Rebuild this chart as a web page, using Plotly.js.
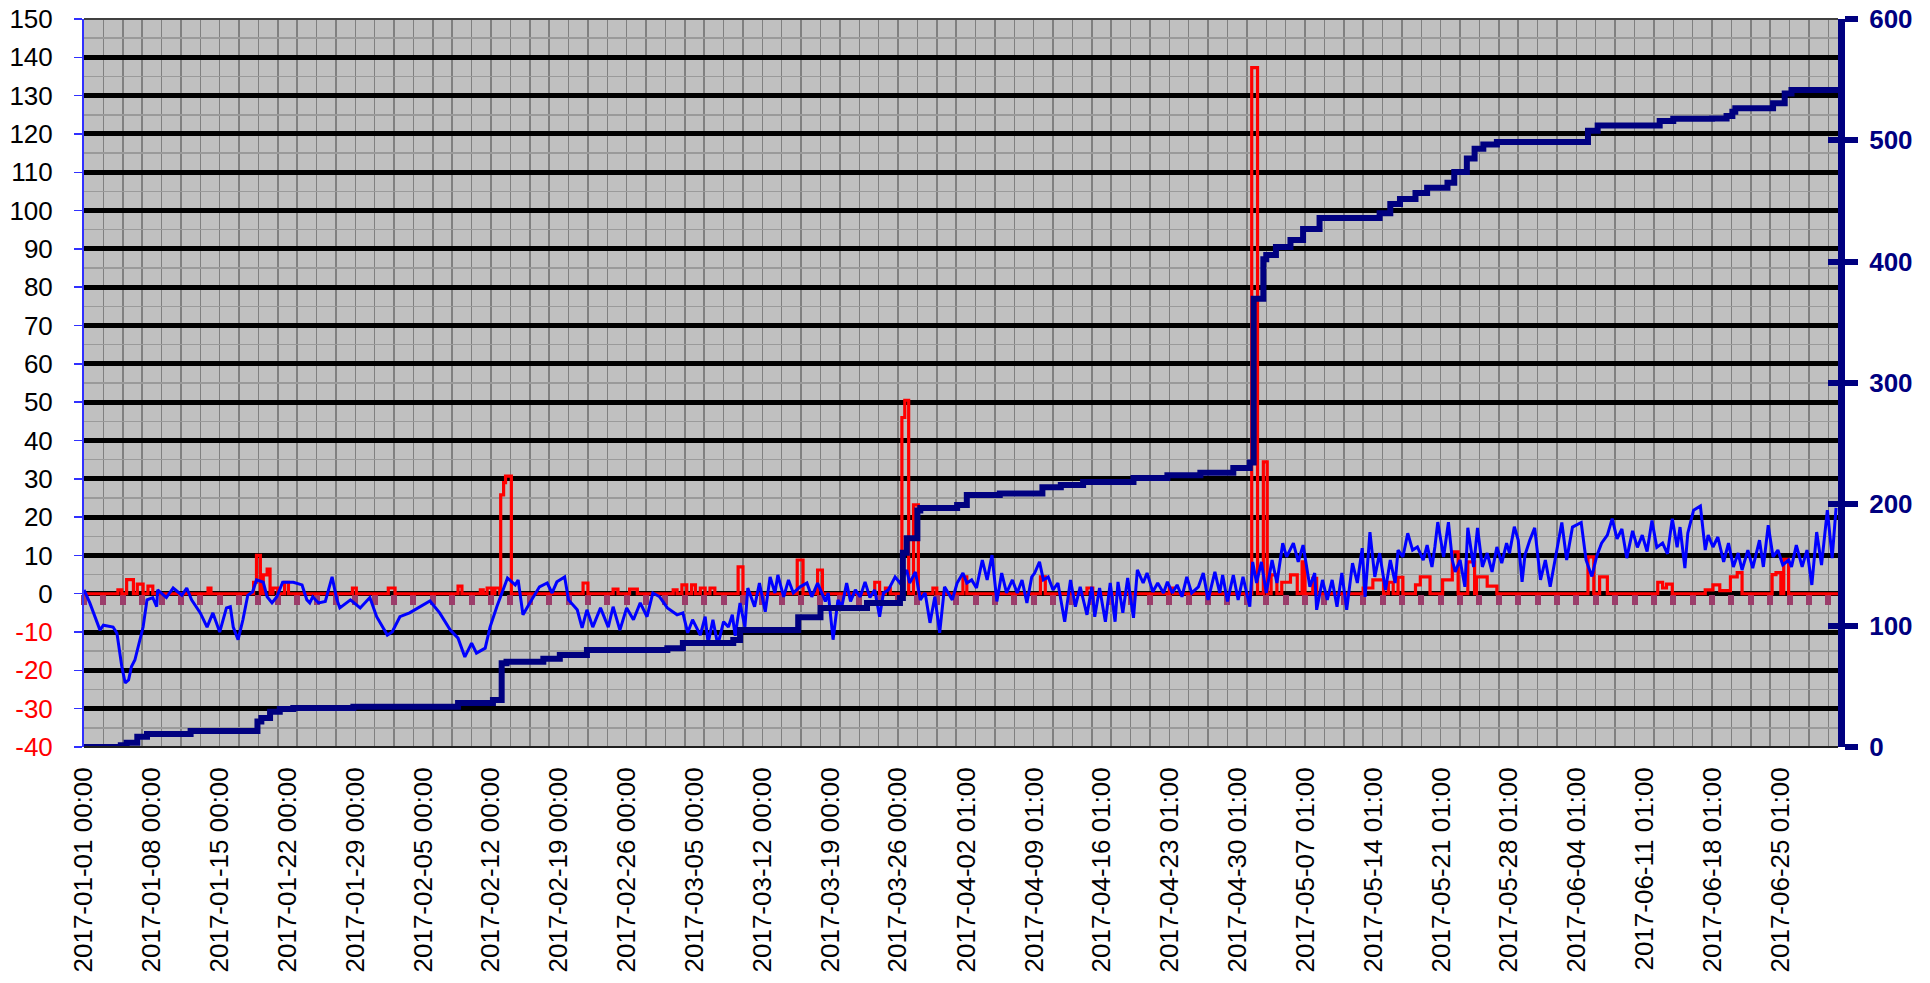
<!DOCTYPE html>
<html>
<head>
<meta charset="utf-8">
<script src="https://cdn.plot.ly/plotly-3.0.1.min.js"></script>
<style>html,body{margin:0;padding:0;background:#fff}#chart{width:1930px;height:983px}</style>
</head>
<body>
<div id="chart"></div>
<script>
// x tick labels (every 7 days)
const tickLabels = [
  "2017-01-01 00:00","2017-01-08 00:00","2017-01-15 00:00","2017-01-22 00:00","2017-01-29 00:00",
  "2017-02-05 00:00","2017-02-12 00:00","2017-02-19 00:00","2017-02-26 00:00","2017-03-05 00:00",
  "2017-03-12 00:00","2017-03-19 00:00","2017-03-26 00:00","2017-04-02 01:00","2017-04-09 01:00",
  "2017-04-16 01:00","2017-04-23 01:00","2017-04-30 01:00","2017-05-07 01:00","2017-05-14 01:00",
  "2017-05-21 01:00","2017-05-28 01:00","2017-06-04 01:00","2017-06-11 01:00","2017-06-18 01:00",
  "2017-06-25 01:00"
];
const leftTicks = [-40,-30,-20,-10,0,10,20,30,40,50,60,70,80,90,100,110,120,130,140,150];
const startDate = "2017-01-01";
const endDate = "2017-07-01";

// blue series (left axis): [day since 2017-01-01, value]
const blueSeries = [
 [0,1],[0.6,-2.4],[1.65,-9.5],[2,-8.2],[3,-8.7],[3.4,-10.3],[3.9,-19],[4.25,-23.3],[4.6,-22.5],[4.9,-19],
 [5.25,-17.3],[5.8,-12],[6.1,-8.7],[6.5,-1.6],[7.1,-1],[7.5,-3.4],[7.6,1],[8.5,-1],[9.2,1.5],[10.1,-0.4],
 [10.6,1.5],[11.1,-1.6],[12,-5],[12.7,-8.7],[13.3,-5],[14,-10],[14.7,-3.7],[15.1,-3.4],[15.4,-8.7],[15.9,-12],
 [16.4,-6.8],[16.9,-0.4],[17.4,0.5],[17.8,3.6],[18.5,3],[18.9,-0.8],[19.4,-2.4],[19.9,-0.8],[20.5,3],[21.6,3],
 [22.5,2.3],[23,-1.6],[23.3,-2.4],[23.6,-0.8],[24.2,-2.4],[24.9,-2],[25.6,4.4],[26.1,-1.6],[26.4,-3.7],[27.5,-1.6],
 [28.5,-3.7],[29.5,-1],[30.2,-6],[31.3,-10.8],[31.8,-10],[32.6,-6],
 [33.6,-5],[35.7,-1.9],[36.7,-5],[37.8,-9.5],[38.6,-11.6],[39.3,-16.5],[40,-12.9],[40.5,-15.5],[41.4,-14.2],[41.9,-8.7],
 [42.6,-3.4],[43.7,4.1],[44.5,2.3],[44.8,3.6],[45.3,-5.5],[46,-2.4],[47,1.8],[47.8,2.8],[48.3,0.2],[48.8,3.1],
 [49.6,4.4],[50,-1.6],[50.9,-4.2],[51.4,-8.9],[51.9,-4.2],[52.5,-8.7],[53.3,-3.7],[54.1,-8.7],[54.6,-3.4],[55.3,-9.5],
 [56,-3.7],[56.7,-6.8],[57.4,-2.4],[58.1,-6],[58.7,0.2],[59.4,-0.8],[60.2,-3.7],[61.2,-5.5],[61.8,-5],[62.3,-10.2],
 [62.8,-6.8],[63.6,-10.8],[64.1,-6],[64.4,-12.9],[64.9,-6.8],[65.4,-13.4],[66,-7.3],[66.5,-8.7],[66.9,-5.5],[67.2,-11],
 [67.7,-2.4],[68.2,-8.7],[68.5,1.5],[69.2,-3.4],[69.7,2.8],[70.3,-4.7],[70.8,4.4],[71.3,0.2],[71.6,4.9],[72.2,-0.8],
 [72.7,3.6],[73.2,0.2],[73.9,1.8],
 [74.6,2.8],[75.1,-0.8],[75.7,2.8],[76.5,-2],[76.8,0.2],[77.3,-12],[77.8,-1.6],[78.2,-3.4],[78.7,2.8],[79.1,-2],
 [79.6,1],[80.1,-0.8],[80.6,3.1],[81.1,-1],[81.6,1],[82.1,-6],[82.5,0.2],[83,1],[83.7,4.4],[84.2,2.8],
 [84.9,6.2],[85.2,2.8],[85.8,5.7],[86.3,-1.6],[86.8,0.2],[87.3,-7.6],[87.8,-0.8],[88.3,-10.2],[88.8,1.8],[89.6,-1.6],
 [90.1,2.8],[90.7,5.4],[91.1,2.8],[91.6,3.6],[92.1,1.5],[92.7,8.8],[93.2,3.6],[93.7,10.1],[94.2,-2],[94.7,5.4],
 [95.2,0.2],[95.8,3.6],[96.3,0.2],[96.8,3.6],[97.3,-2.4],[97.8,4.4],[98.1,5.4],[98.6,8.3],[99,3.6],[99.5,4.4],
 [100,1],[100.5,2.8],[101.2,-7.3],[101.8,3.6],[102.3,-3.4],[102.8,1.8],[103.5,-5.5],[104,1.8],[104.3,-6],[104.8,1.5],
 [105.4,-7.3],[105.9,2.8],[106.4,-7.3],[106.7,3.1],[107.2,-5],[107.7,4.1],[108.3,-6.3],[108.7,6.2],[109.3,2.8],[109.7,5.4],
 [110.3,0.5],[110.8,2.8],[111.4,0.2],[111.8,3.1],[112.3,0.2],[112.8,2.3],[113.3,-0.8],[113.8,4.4],[114.3,0.2],[115,1.8],
 [115.5,5.4],[116,-1.6],[116.7,5.7],[117.2,0.2],[117.5,4.9],[118,-2],[118.6,4.9],[119.1,-1.6],[119.6,4.4],[120.3,-3.4],
 [120.6,8.3],[121,2.8],[121.5,8.3],[122,0.2],[122.6,8.8],[123.1,2.8],[123.7,13.2],[124.1,9.6],[124.8,13.2],[125.3,8.3],
 [125.8,12.7],[126.5,1.8],[127,5.4],[127.2,-4.2],[127.8,3.6],[128.3,-1.6],[128.8,3.6],[129.3,-3.4],[129.8,5.4],[130.3,-4.2],
 [130.9,8],[131.4,2.8],[131.9,11.9],[132.2,-0.8],[132.7,16.1],[133.2,4.4],[133.7,10.6],[134.3,1],[134.8,8.8],[135.3,2.8],
 [135.6,11.4],[136.1,9.6],[136.6,15.8],[137.1,11.4],[137.6,12.2],[138.2,8.8],[138.6,12.7],[139.1,7],[139.4,12.2],[139.7,18.7],
 [140.3,9.6],[140.8,18.7],[141.2,8.8],[141.5,5.7],[142,8.8],[142.5,1.8],[142.8,17.2],[143.4,7],[143.8,17.2],[144.3,7],
 [144.8,10.6],[145.3,5.7],[145.8,12.2],[146.3,8],[146.8,13.2],[147.1,10.6],[147.6,17.5],[148,14],[148.4,3.1],[148.7,10.1],
 [149.2,14],[149.7,17.2],[150.3,3.6],[150.8,8.8],[151.3,1.8],
 [152.5,18.6],[153,8.8],[153.6,17.4],[154.5,18.6],[155,8.8],[155.6,4.5],[156.1,9.8],[156.6,13.2],[157.2,15.3],[157.7,19.6],
 [158.2,14.3],[158.7,16.9],[159.2,9.3],[159.8,16.4],[160.3,12.1],[160.8,15.3],[161.3,11],[161.8,19.1],[162.3,12.1],[162.9,13.2],
 [163.4,10.4],[163.9,19.6],[164.4,12.1],[164.7,17.4],[165.2,6.7],[165.5,15.8],[166.1,21.8],[166.8,22.9],
 [167.3,11.4],[167.6,15.3],[168.1,12.2],[168.6,14.8],[169.2,8.3],[169.7,13.2],[170.2,7],[170.7,10.6],[171.1,6.2],[171.7,11.4],
 [172.2,6.7],[172.9,14],[173.3,7],[173.8,17.9],[174.3,9.6],[174.8,11.4],[175.3,7.5],[175.9,8.8],[176.2,7],[176.7,12.7],
 [177.3,7],[177.8,11.4],[178.3,2.3],[178.8,16.1],[179.3,7.5],[179.9,21.8],[180.4,9.3],[180.8,22.4]
];

// red series (left axis), step values: [day, value held from that day]
const redSeries = [
 [0,0],[3.5,1],[3.9,0],[4.4,3.7],[5.1,0],[5.5,2.5],[6.1,0],[6.6,2],[7.1,0],[12.8,1.5],[13.1,0],
 [17.5,3],[17.8,10],[18.2,0],[18.5,4.9],[18.9,6.4],[19.2,0],[19.5,1.5],[20,0],[20.7,3],[21.1,0],
 [27.7,1.5],[28.1,0],[31.4,1.5],[32.1,0],[38.6,2],[39,0],[40.9,1],[41.2,0],[41.6,1.5],[42.1,0],
 [42.4,1.5],[42.9,0],[43,25.8],[43.3,29],[43.5,30.7],[44.1,0],[51.5,2.8],[52,0],[54.6,1.2],[55.1,0],
 [56.3,1.2],[57.1,0],[60.8,1],[61.2,0],[61.7,2.3],[62.2,0],[62.7,2.3],[63.1,0],[63.6,1.5],[64.1,0],
 [64.6,1.5],[65.1,0],[67.5,7],[68,0],[73.6,8.8],[74.2,0],[75.7,6.2],[76.2,0],[81.6,3],[82.1,0],
 [82.7,1.5],[83.2,0],[84.4,46],[84.7,50.5],[85.1,0],[85.6,23.2],[86.1,0],[87.6,1.5],[88,0],[90.7,4.4],
 [91.1,0],[98.7,4.4],[99.2,0],[103.5,1.5],[104.1,0],[112,1.5],[112.4,0],[120.5,137.3],[121.1,0],[121.7,34.4],
 [122.1,0],[122.5,4.9],[123.1,0],[123.6,3],[124.5,4.9],[125.2,0],[125.7,8.3],[126,0],[126.8,4],[127.2,0],
 [132,1.5],[133,3.6],[134.1,0],[134.6,3],[135.1,0],[135.6,4.3],[136.1,0],[137.4,2.3],[137.9,4.4],[138.9,0],
 [140.2,3.6],[141.2,10.9],[141.8,0],[142.8,8.3],[143.5,0],[143.7,4.4],[144.8,2],[145.8,0],[155.2,9.6],[155.8,0],
 [156.4,4.4],[157.2,0],[162.4,3],[162.9,1.5],[163.3,2.5],[163.9,0],[167.3,1],[168.1,2.3],[168.8,0.8],[169.9,4.4],
 [170.6,5.5],[171.1,0],[174.2,5],[174.6,5.5],[175.1,0],[175.4,9],[175.9,0],[181,0]
];

// navy cumulative series (right axis), step values: [day, value held from that day]
const navySeries = [
 [0,0],[3.8,1.5],[4.4,3.5],[5.5,8.5],[6.5,10.7],[11,13.2],[17.9,21],[18.3,23.9],[19.2,29],[20.2,31.3],
 [21.6,32.1],[27.8,33.2],[38.6,36.2],[42.2,38.7],[43.1,69],[43.6,70.3],[47.4,72.8],[49.1,75.8],[51.9,80],[60.2,81.3],
 [61.8,85.7],[67,88.2],[67.7,96.4],[73.7,107],[76,114.5],[80.8,118.6],[84.2,122.8],[84.5,160],[84.9,172],[86,195],
 [86.3,197],[90.1,199.5],[91.1,207.7],[94.5,209],[98.9,214],[100.8,216],[103.1,218.4],[108.3,221.7],[111.8,224],[115.2,226],
 [118.6,230],[120.3,234.5],[120.7,369.4],[121.7,401.9],[122,405.5],[123,412],[124.5,417.9],[125.8,426.9],[127.5,436],[133.7,440],
 [134.8,447.6],[135.8,451.7],[137.4,456.6],[138.6,461],[140.7,465],[141.4,474],[142.7,485],[143.5,493],[144.4,496.6],[145.8,498.6],
 [155.2,507.9],[156.2,512.2],[162.6,516],[164,517.8],[168,518],[169.5,520],[170.1,523.6],[170.4,526.4],[174.3,530.5],[175.5,538.7],
 [176.2,541.5],[181,541.5]
];

const DAY = 86400000;
const T0 = Date.UTC(2017,0,1);
const toX = d => T0 + d*DAY;
const FONT = "Liberation Sans, Arial, sans-serif";

const leftTickText = leftTicks.map(v => v < 0 ? '<span style="color:#ff0000">' + v + '</span>' : String(v));

const traces = [
  {x: redSeries.map(p=>toX(p[0])), y: redSeries.map(p=>p[1]), type:'scatter', mode:'lines',
   line:{color:'#ff0000', width:3.2, shape:'hv'}, xaxis:'x', yaxis:'y', hoverinfo:'skip'},
  {x: blueSeries.map(p=>toX(p[0])), y: blueSeries.map(p=>p[1]), type:'scatter', mode:'lines',
   line:{color:'#0000ff', width:3}, xaxis:'x', yaxis:'y', hoverinfo:'skip'},
  {x: navySeries.map(p=>toX(p[0])), y: navySeries.map(p=>p[1]), type:'scatter', mode:'lines',
   line:{color:'#000080', width:6, shape:'hv'}, xaxis:'x', yaxis:'y2', hoverinfo:'skip'},
  {x: [], y: [], type:'scatter', mode:'lines', xaxis:'x2', yaxis:'y', hoverinfo:'skip'},
  {x: [], y: [], type:'scatter', mode:'lines', xaxis:'x', yaxis:'y3', hoverinfo:'skip'}
];

const layout = {
  width:1930, height:983,
  margin:{l:84, r:92, t:19, b:236, pad:0},
  paper_bgcolor:'#ffffff', plot_bgcolor:'#c0c0c0',
  showlegend:false,
  font:{family:FONT, size:26, color:'#000'},
  xaxis:{
    type:'date', range:[startDate, endDate],
    tickmode:'array', tickvals: tickLabels, ticktext: tickLabels,
    tickangle:-90, tickfont:{family:FONT, size:26, color:'#000'},
    ticks:'', showgrid:false, showline:false, zeroline:false,
    ticklabelstandoff:14,
    minor:{tickmode:'linear', tick0:startDate, dtick:2*DAY, showgrid:true, gridcolor:'#808080', gridwidth:1.5, ticks:''}
  },
  xaxis2:{
    type:'date', range:[startDate, endDate], overlaying:'x', anchor:'free', position:40/190,
    tickmode:'linear', tick0:startDate, dtick:2*DAY,
    ticks:'outside', ticklen:10, tickwidth:6, tickcolor:'#9b3d6b',
    showticklabels:false, showgrid:false, showline:false, zeroline:false, layer:'below traces'
  },
  yaxis:{
    range:[-40,150], tickmode:'array', tickvals:leftTicks, ticktext:leftTickText,
    tickfont:{family:FONT, size:26, color:'#000'},
    ticks:'outside', ticklen:8, tickwidth:1.5, tickcolor:'#3030ff',
    showline:true, linecolor:'#3030ff', linewidth:2,
    showgrid:true, gridcolor:'#000000', gridwidth:5, zeroline:false,
    ticklabelstandoff:16,
    minor:{tickmode:'linear', tick0:-40, dtick:5, showgrid:true, gridcolor:'#9a9a9a', gridwidth:1.5, ticks:''}
  },
  yaxis2:{
    overlaying:'y', side:'right', range:[0,600], tickmode:'linear', tick0:0, dtick:100,
    showgrid:false, zeroline:false, showline:true, linecolor:'#000080', linewidth:7,
    ticks:'outside', ticklen:13, tickwidth:6, tickcolor:'#000080',
    tickfont:{family:FONT, size:26, color:'#000080', weight:'bold'}, ticklabelstandoff:6
  },
  yaxis3:{
    overlaying:'y', side:'right', range:[0,600], tickmode:'linear', tick0:0, dtick:100,
    showgrid:false, zeroline:false, showline:false, showticklabels:false,
    ticks:'inside', ticklen:10, tickwidth:6, tickcolor:'#000080'
  },
  shapes:[
    {type:'line', xref:'paper', yref:'paper', x0:0, x1:1, y0:1, y1:1, line:{color:'#404040', width:2}},
    {type:'line', xref:'paper', yref:'paper', x0:0, x1:1, y0:0, y1:0, line:{color:'#202020', width:2}}
  ]
};

Plotly.newPlot('chart', traces, layout, {staticPlot:true, displayModeBar:false});
</script>
</body>
</html>
